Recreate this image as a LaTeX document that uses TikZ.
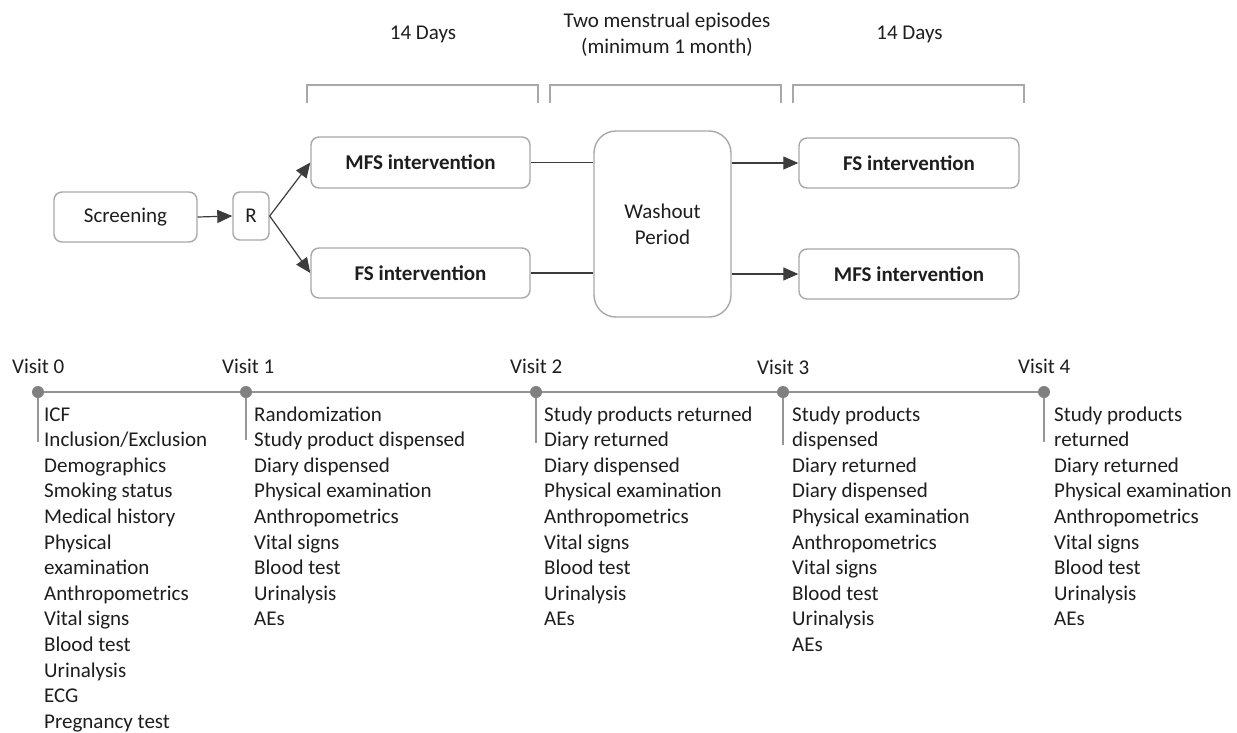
\documentclass[tikz,border=0pt]{standalone}
\usepackage{fontspec}
\setmainfont{Carlito}
\usetikzlibrary{arrows.meta}
\definecolor{txt}{HTML}{1E1E1E}
\definecolor{boxline}{HTML}{A8A8A8}
\definecolor{conline}{HTML}{3C3C3C}
\definecolor{tline}{HTML}{959595}
\definecolor{tdot}{HTML}{808080}
\tikzset{
  fbox/.style={draw=boxline, line width=1.4pt, rounded corners=8pt, inner sep=0pt, text=txt},
  bfbox/.style={fbox, font=\fontsize{21}{25.6}\selectfont\bfseries},
  conn/.style={draw=conline, line width=1.2pt},
  arr/.style={conn, -{Triangle[length=15pt,width=13pt]}},
  brk/.style={draw=boxline, line width=1.4pt},
  item/.style={anchor=base west, inner sep=0pt, text=txt},
  dotn/.style={circle, fill=tdot, minimum size=12pt, inner sep=0pt},
  tick/.style={draw=tline, line width=1.6pt},
}
\begin{document}
\begin{tikzpicture}[x=1pt,y=-1pt,font=\fontsize{21}{25.6}\selectfont]
\useasboundingbox[fill=white] (0,0) rectangle (1237,732);

% top labels
\node[item,anchor=base] (d1) at (423,39) {14 Days};
\node[item,anchor=base] (w1) at (667,27) {Two menstrual episodes};
\node[item,anchor=base] (w2) at (667,53) {(minimum 1 month)};
\node[item,anchor=base] (d2) at (909.5,39) {14 Days};

% brackets
\draw[brk] (307,103) -- (307,85) -- (538,85) -- (538,103);
\draw[brk] (550,103) -- (550,85) -- (781,85) -- (781,103);
\draw[brk] (793,103) -- (793,85) -- (1024,85) -- (1024,103);

% boxes
\node[fbox, minimum width=143pt, minimum height=50pt] (scr) at (125.5,217) {Screening};
\node[fbox, minimum width=36pt, minimum height=48pt, rounded corners=7pt] (R) at (251,216) {R};
\node[bfbox, minimum width=219pt, minimum height=51pt] (mfs1) at (420.5,162.5) {MFS intervention};
\node[bfbox, minimum width=219pt, minimum height=50pt] (fs1) at (420.5,273) {FS intervention};
\node[fbox, minimum width=137pt, minimum height=186pt, rounded corners=22pt, align=center] (wash) at (662.5,224) {Washout\\Period};
\node[bfbox, minimum width=220pt, minimum height=50pt] (fs2) at (909,163) {FS intervention};
\node[bfbox, minimum width=220pt, minimum height=50pt] (mfs2) at (909,274) {MFS intervention};

% connectors
\draw[arr] (scr.east) -- (R.west);
\draw[arr] (R.east) -- (mfs1.west);
\draw[arr] (R.east) -- (fs1.west);
\draw[conn] (mfs1.east) -- (mfs1.east -| wash.west);
\draw[conn] (fs1.east) -- (fs1.east -| wash.west);
\draw[arr] (wash.east |- fs2.west) -- (fs2.west);
\draw[arr] (wash.east |- mfs2.west) -- (mfs2.west);

% timeline
\coordinate (p0) at (38,392);
\coordinate (p1) at (246,392);
\coordinate (p2) at (536,392);
\coordinate (p3) at (783,392);
\coordinate (p4) at (1044,392);
\draw[tick] (p0) -- (p4);
\draw[tick] (p0) -- ++(0,50);
\draw[tick] (p1) -- ++(0,48);
\draw[tick] (p2) -- ++(0,51);
\draw[tick] (p3) -- ++(0,53);
\draw[tick] (p4) -- ++(0,50);
\node[dotn] (t0) at (p0) {};
\node[dotn] (t1) at (p1) {};
\node[dotn] (t2) at (p2) {};
\node[dotn] (t3) at (p3) {};
\node[dotn] (t4) at (p4) {};

\node[item] (vl0) at (12,373) {Visit 0};
\node[item] (vl1) at (222,373) {Visit 1};
\node[item] (vl2) at (510,373) {Visit 2};
\node[item] (vl3) at (757,374) {Visit 3};
\node[item] (vl4) at (1018,373) {Visit 4};

\foreach \t [count=\i from 0] in {ICF,Inclusion/Exclusion,Demographics,Smoking status,Medical history,Physical,examination,Anthropometrics,Vital signs,Blood test,Urinalysis,ECG,Pregnancy test}
  \node[item] (a\i) at (44,421+25.6*\i) {\t};
\foreach \t [count=\i from 0] in {Randomization,Study product dispensed,Diary dispensed,Physical examination,Anthropometrics,Vital signs,Blood test,Urinalysis,AEs}
  \node[item] (b\i) at (254,421+25.6*\i) {\t};
\foreach \t [count=\i from 0] in {Study products returned,Diary returned,Diary dispensed,Physical examination,Anthropometrics,Vital signs,Blood test,Urinalysis,AEs}
  \node[item] (c\i) at (544,421+25.6*\i) {\t};
\foreach \t [count=\i from 0] in {Study products,dispensed,Diary returned,Diary dispensed,Physical examination,Anthropometrics,Vital signs,Blood test,Urinalysis,AEs}
  \node[item] (e\i) at (792,421+25.6*\i) {\t};
\foreach \t [count=\i from 0] in {Study products,returned,Diary returned,Physical examination,Anthropometrics,Vital signs,Blood test,Urinalysis,AEs}
  \node[item] (f\i) at (1054,421+25.6*\i) {\t};
\end{tikzpicture}
\end{document}
